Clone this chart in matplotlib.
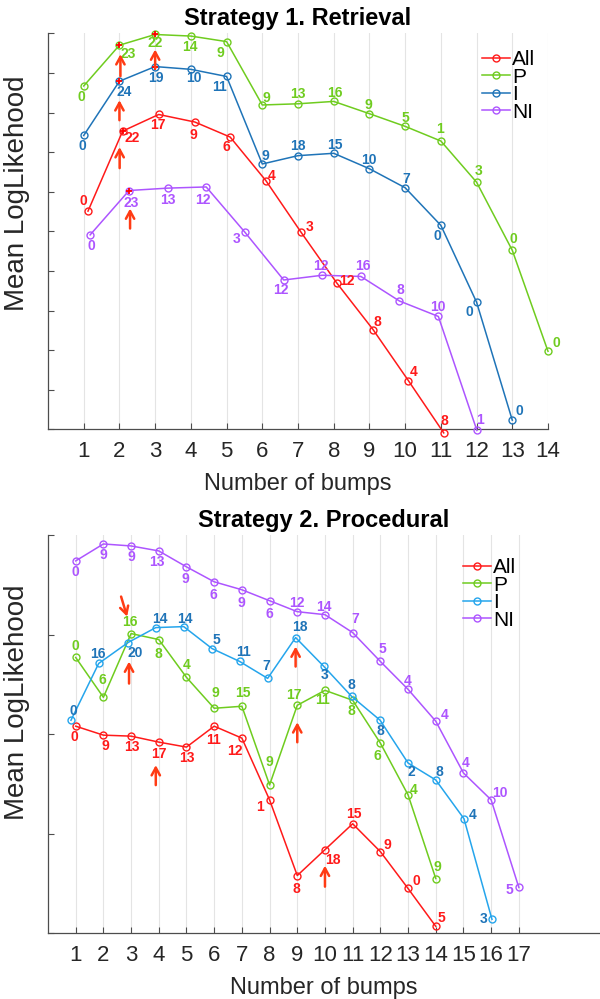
import matplotlib
matplotlib.use("Agg")
import matplotlib.pyplot as plt
from matplotlib.transforms import offset_copy

plt.rcParams['font.family'] = ['Liberation Sans', 'DejaVu Sans']

# ---------------- Strategy 1. Retrieval ----------------
s1_all_x = [1.12, 2.09, 3.10, 4.11, 5.10, 6.10, 7.09, 8.09, 9.10, 10.09, 11.08]
s1_all_y = [5.51, 7.53, 7.95, 7.76, 7.38, 6.28, 4.97, 3.69, 2.52, 1.23, -0.09]
s1_all_n = [0, 22, 17, 9, 6, 4, 3, 12, 8, 4, 8]

s1_p_x = [1, 2, 3, 4, 5, 6, 7, 8, 9, 10, 11, 12, 13, 14]
s1_p_y = [8.67, 9.70, 9.97, 9.93, 9.79, 8.19, 8.22, 8.28, 7.97, 7.65, 7.28, 6.24, 4.52, 1.97]
s1_p_n = [0, 23, 22, 14, 9, 9, 13, 16, 9, 5, 1, 3, 0, 0]

s1_i_x = [1, 2, 3, 4, 5, 6, 7, 8, 9, 10, 11, 12, 13]
s1_i_y = [7.42, 8.79, 9.16, 9.09, 8.91, 6.70, 6.91, 6.97, 6.58, 6.10, 5.15, 3.21, 0.23]
s1_i_n = [0, 24, 19, 10, 11, 9, 18, 15, 10, 7, 0, 0, 0]

s1_ni_x = [1.18, 2.27, 3.35, 4.43, 5.51, 6.60, 7.68, 8.76, 9.84, 10.93, 12.01]
s1_ni_y = [4.91, 6.03, 6.09, 6.12, 4.98, 3.77, 3.89, 3.86, 3.24, 2.85, -0.03]
s1_ni_n = [0, 23, 13, 12, 3, 12, 12, 16, 8, 10, 1]

# best models (highlighted points) per series
s1_best = {'All': [1], 'P': [1, 2], 'I': [1, 2], 'NI': [1]}

# ---------------- Strategy 2. Procedural ----------------
s2_all_x = [1, 2, 3, 4, 5, 6, 7, 8, 9, 10, 11, 12, 13, 14]
s2_all_y = [2.08, 1.99, 1.98, 1.92, 1.87, 2.08, 1.96, 1.34, 0.58, 0.84, 1.10, 0.82, 0.45, 0.07]
s2_all_n = [0, 9, 13, 17, 13, 11, 12, 1, 8, 18, 15, 9, 0, 5]

s2_p_x = [1, 2, 3, 4, 5, 6, 7, 8, 9, 10, 11, 12, 13, 14]
s2_p_y = [2.77, 2.37, 3.01, 2.95, 2.57, 2.26, 2.28, 1.49, 2.29, 2.44, 2.34, 1.91, 1.39, 0.55]
s2_p_n = [0, 6, 16, 8, 4, 9, 15, 9, 17, 11, 8, 6, 4, 9]

s2_i_x = [0.83, 1.83, 2.89, 3.89, 4.90, 5.92, 6.92, 7.93, 8.94, 9.96, 10.96, 11.99, 13.0, 14.0, 15.02, 16.03]
s2_i_y = [2.14, 2.71, 2.92, 3.07, 3.08, 2.86, 2.73, 2.56, 2.97, 2.68, 2.38, 2.14, 1.71, 1.54, 1.15, 0.14]
s2_i_n = [0, 16, 20, 14, 14, 5, 11, 7, 18, 3, 8, 8, 2, 8, 4, 3]

s2_ni_x = list(range(1, 18))
s2_ni_y = [3.74, 3.91, 3.89, 3.84, 3.68, 3.53, 3.45, 3.34, 3.23, 3.20, 3.02, 2.73, 2.45, 2.13, 1.61, 1.34, 0.46]
s2_ni_n = [0, 9, 9, 13, 9, 6, 9, 6, 12, 14, 7, 5, 4, 4, 4, 10, 5]

series_names = ['All', 'P', 'I', 'NI']

# label offsets in pixels (dx right, dy down) -- layout only
s1_off = {
    'All': [(-5, -10), (9, 7), (-1, 11), (-1, 13), (-4, 10), (6, -5), (8, -5), (10, -2), (4, -8), (5, -9), (1, -12)],
    'P': [(-2, 11), (9, 9), (0, 9), (-1, 11), (-6, 11), (4, -7), (0, -10), (1, -8), (-1, -9), (0, -8), (-1, -12), (2, -11), (1, -11), (8, -8)],
    'I': [(-1, 11), (5, 11), (1, 11), (3, 9), (-7, 11), (3, -8), (0, -10), (1, -8), (-1, -9), (1, -9), (-3, 11), (-7, 10), (7, -9)],
    'NI': [(1, 11), (2, 12), (0, 12), (-3, 13), (-8, 7), (-3, 10), (-1, -9), (2, -10), (1, -11), (0, -9), (3, -10)],
}
s2_off = {
    'All': [(-1, 11), (2, 11), (1, 11), (0, 12), (0, 11), (-1, 14), (-7, 13), (-10, 7), (-1, 13), (8, 10), (1, -10), (7, -7), (8, -7), (6, -8)],
    'P': [(0, -11), (-1, -17), (-1, -12), (0, 14), (0, -12), (1, -15), (1, -13), (0, -23), (-3, -10), (-2, 10), (-1, 11), (-3, 13), (6, -5), (2, -12)],
    'I': [(2, -9), (-1, -9), (7, 10), (4, -9), (1, -8), (4, -9), (4, -9), (-1, -12), (4, -11), (1, 9), (0, -11), (0, 11), (3, 9), (4, -8), (9, -4), (-8, 0)],
    'NI': [(0, 11), (0, 11), (0, 11), (-2, 11), (-1, 12), (-1, 13), (-1, 13), (0, 13), (0, -9), (-1, -8), (3, -14), (2, -12), (0, -8), (9, -6), (2, -10), (9, -7), (-9, 3)],
}

# arrows: (series, index, tip offset px, tail offset px)
s1_arrows = [('P', 1, (1, 9), (1, 31)), ('I', 1, (0, 19), (0, 39)), ('All', 1, (-3, 16), (-3, 37)),
             ('P', 2, (0, 15), (0, 34)), ('NI', 1, (1, 18), (1, 38))]
s2_arrows = [('P', 2, (-4, -17), (-10, -37)), ('I', 2, (1, 19), (1, 41)), ('I', 8, (0, 9), (0, 29)),
             ('P', 8, (0, 17), (0, 37)), ('All', 3, (-3, 23), (-3, 43)), ('All', 9, (0, 16), (0, 37))]

RED = '#FF1A1A'
GREEN = '#6FCC1F'
BLUE1 = '#1F74B8'
BLUE2 = '#25A5EC'
PURPLE = '#AD55FF'
ARROW = '#FF3B14'
AXC = '#4D4D4D'

fig = plt.figure(figsize=(6, 9.99), dpi=100)
W, H = 600.0, 999.0


def panel(rect_px, xlim, ylim, xticks, data, colors, text_colors, offsets, arrows, best, title, leg_xy):
    left, top, right, bottom = rect_px
    ax = fig.add_axes([left / W, 1 - bottom / H, (right - left) / W, (bottom - top) / H])
    lines = []
    for name in series_names:
        xs, ys, ns = data[name]
        ln, = ax.plot(xs, ys, '-o', color=colors[name], lw=1.1, ms=5, mfc='none', mew=1.0,
                      clip_on=False, zorder=3, label=name)
        lines.append(ln)
        for i in best.get(name, []):
            ax.plot(xs[i], ys[i], '+', color='red', ms=5, mew=1.3, zorder=4, clip_on=False)
        for (x, y, n, (dx, dy)) in zip(xs, ys, ns, offsets[name]):
            ax.annotate(str(n), xy=(x, y), xytext=(dx, -dy), textcoords='offset pixels',
                        ha='center', va='center', fontsize=10, fontweight='bold',
                        color=text_colors[name], annotation_clip=False, zorder=5)
    for name, i, tip, tail in arrows:
        xs, ys, _ = data[name]
        tr = offset_copy(ax.transData, fig=fig, x=tip[0], y=-tip[1], units='dots')
        ax.annotate('', xy=(xs[i], ys[i]), xycoords=tr,
                    xytext=(tail[0] - tip[0], -(tail[1] - tip[1])), textcoords='offset pixels',
                    arrowprops=dict(arrowstyle='->,head_length=0.55,head_width=0.3',
                                    color=ARROW, lw=1.8, shrinkA=0, shrinkB=0),
                    annotation_clip=False, zorder=6)
    ax.set_xlim(*xlim)
    ax.set_ylim(*ylim)
    ax.set_xticks(xticks)
    ax.set_yticks(range(int(ylim[0]), int(ylim[1]) + 1))
    ax.set_yticklabels([])
    ax.xaxis.grid(True, color='#E4E4E4', lw=0.8)
    ax.set_axisbelow(True)
    for s in ['top', 'right']:
        ax.spines[s].set_visible(False)
    for s in ['left', 'bottom']:
        ax.spines[s].set_color(AXC)
        ax.spines[s].set_linewidth(0.9)
    ax.tick_params(direction='in', length=4, width=0.8, color=AXC, labelsize=16,
                   labelcolor='#262626', pad=8.5)
    ax.set_title(title, fontsize=17, fontweight='bold', pad=6)
    ax.set_xlabel('Number of bumps', fontsize=17, color='#262626', labelpad=8)
    ax.set_ylabel('Mean LogLikehood', fontsize=20, color='#262626')
    ax.legend(lines, series_names, loc='upper left', bbox_to_anchor=(leg_xy[0] / W, 1 - leg_xy[1] / H),
              bbox_transform=fig.transFigure, frameon=False, fontsize=15, handlelength=1.35,
              handletextpad=0.1, labelspacing=-0.07, borderpad=0, borderaxespad=0)
    return ax


s1_data = {'All': (s1_all_x, s1_all_y, s1_all_n), 'P': (s1_p_x, s1_p_y, s1_p_n),
           'I': (s1_i_x, s1_i_y, s1_i_n), 'NI': (s1_ni_x, s1_ni_y, s1_ni_n)}
s2_data = {'All': (s2_all_x, s2_all_y, s2_all_n), 'P': (s2_p_x, s2_p_y, s2_p_n),
           'I': (s2_i_x, s2_i_y, s2_i_n), 'NI': (s2_ni_x, s2_ni_y, s2_ni_n)}

ax1 = panel((48, 33.3, 548, 429.3), (0, 14), (0, 10), range(1, 15), s1_data,
            {'All': RED, 'P': GREEN, 'I': BLUE1, 'NI': PURPLE},
            {'All': RED, 'P': GREEN, 'I': BLUE1, 'NI': PURPLE},
            s1_off, s1_arrows, s1_best, 'Strategy 1. Retrieval', (482, 50))
ax1.yaxis.set_label_coords(-0.035, 0.597)

ax2 = panel((48, 535, 600, 933.3), (0, 19.93), (0, 4), range(1, 18), s2_data,
            {'All': RED, 'P': GREEN, 'I': BLUE2, 'NI': PURPLE},
            {'All': RED, 'P': GREEN, 'I': BLUE1, 'NI': PURPLE},
            s2_off, s2_arrows, {}, 'Strategy 2. Procedural', (463, 558))
ax2.yaxis.set_label_coords(-0.032, 0.581)

fig.savefig('out.png', dpi=100)
